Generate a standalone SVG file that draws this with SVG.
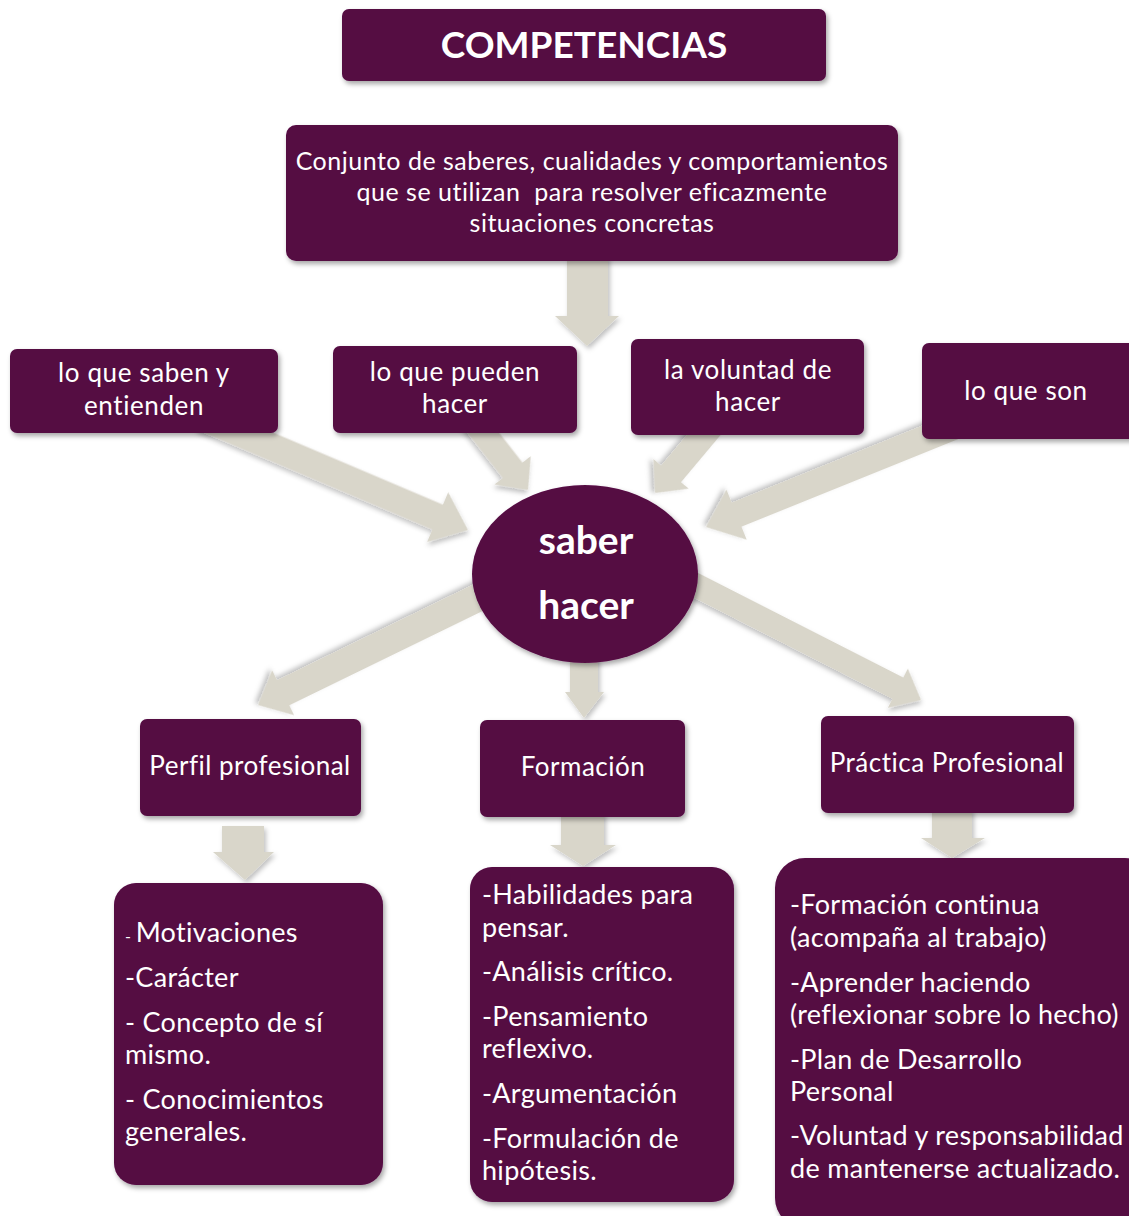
<svg xmlns="http://www.w3.org/2000/svg" width="1129" height="1216" viewBox="0 0 1129 1216">
  <defs>
    <filter id="shadow" x="-10%" y="-10%" width="125%" height="130%">
      <feDropShadow dx="2" dy="3" stdDeviation="2.5" flood-color="#000" flood-opacity="0.35"/>
    </filter>
    <filter id="ashadow" x="-10%" y="-10%" width="125%" height="130%">
      <feDropShadow dx="2" dy="3" stdDeviation="2.5" flood-color="#000" flood-opacity="0.25"/>
    </filter>
  </defs>
  <style>
    .box { fill: #540842; filter: url(#shadow); }
    .arrow { fill: #d9d6ca; filter: url(#ashadow); }
    text { fill: #ffffff; font-family: Lato, "Liberation Sans", sans-serif; }
    .c { text-anchor: middle; }
    .def { font-size: 25px; letter-spacing: 0.5px; }
    .row { font-size: 26px; letter-spacing: 0.6px; }
    .mid { font-size: 26px; letter-spacing: 0.5px; }
    .li { font-size: 27px; letter-spacing: 0.3px; }
    .b { font-weight: bold; }
  </style>
  <rect width="1129" height="1216" fill="#ffffff"/>

  <!-- block arrows -->
  <g id="connectors">
    <polygon class="arrow" points="567,255 608,255 608,316 619,316 587,346 555,316 567,316"/>
    <g transform="translate(468,530) rotate(23)"><polygon class="arrow" points="0,0 -33,-27 -33,-13.5 -290,-13.5 -290,13.5 -33,13.5 -33,27"/></g>
    <g transform="translate(528,490) rotate(52)"><polygon class="arrow" points="0,0 -25,-23 -25,-12.5 -100,-12.5 -100,12.5 -25,12.5 -25,23"/></g>
    <g transform="translate(655,493) rotate(130)"><polygon class="arrow" points="0,0 -25,-23 -25,-13 -110,-13 -110,13 -25,13 -25,23"/></g>
    <g transform="translate(706,527) rotate(158)"><polygon class="arrow" points="0,0 -33,-27 -33,-13 -290,-13 -290,13 -33,13 -33,27"/></g>
    <g transform="translate(258,705) rotate(154)"><polygon class="arrow" points="0,0 -28,-25 -28,-14 -300,-14 -300,14 -28,14 -28,25"/></g>
    <g transform="translate(921,700) rotate(27)"><polygon class="arrow" points="0,0 -26,-22 -26,-12 -300,-12 -300,12 -26,12 -26,22"/></g>
    <polygon class="arrow" points="570,655 598,655 598,692 604,692 584,718 565,692 570,692"/>
    <polygon class="arrow" points="222,826 264,826 264,852 274,852 245,880 213,852 222,852"/>
    <polygon class="arrow" points="561,812 604,812 604,845 616,845 583,866 550,845 561,845"/>
    <polygon class="arrow" points="932,808 972,808 972,838 985,838 952,858 921,838 932,838"/>
  </g>

  <g id="competencias">
    <rect class="box" x="342" y="9" width="484" height="72" rx="7"/>
    <text class="c b" x="584" y="58" font-size="37">COMPETENCIAS</text>
  </g>

  <g id="definicion">
    <rect class="box" x="286" y="125" width="612" height="136" rx="10"/>
    <text class="c def" x="592" y="170">Conjunto de saberes, cualidades y comportamientos</text>
    <text class="c def" x="592" y="201" xml:space="preserve">que se utilizan  para resolver eficazmente</text>
    <text class="c def" x="592" y="232">situaciones concretas</text>
  </g>

  <g id="saben">
    <rect class="box" x="10" y="349" width="268" height="84" rx="7"/>
    <text class="c row" x="144" y="382">lo que saben y</text>
    <text class="c row" x="144" y="415">entienden</text>
  </g>

  <g id="pueden">
    <rect class="box" x="333" y="346" width="244" height="87" rx="7"/>
    <text class="c row" x="455" y="381">lo que pueden</text>
    <text class="c row" x="455" y="413">hacer</text>
  </g>

  <g id="voluntad">
    <rect class="box" x="631" y="339" width="233" height="96" rx="7"/>
    <text class="c row" x="748" y="379">la voluntad de</text>
    <text class="c row" x="748" y="411">hacer</text>
  </g>

  <g id="son">
    <rect class="box" x="922" y="343" width="220" height="96" rx="7"/>
    <text class="c row" x="1026" y="400">lo que son</text>
  </g>

  <g id="saber-hacer">
    <ellipse class="box" cx="585" cy="574" rx="113" ry="89"/>
    <text class="c b" x="586" y="554" font-size="39">saber</text>
    <text class="c b" x="586" y="619" font-size="39">hacer</text>
  </g>

  <g id="perfil">
    <rect class="box" x="140" y="719" width="221" height="97" rx="7"/>
    <text class="c mid" x="250" y="775">Perfil profesional</text>
  </g>

  <g id="formacion">
    <rect class="box" x="480" y="720" width="205" height="97" rx="7"/>
    <text class="c mid" x="583" y="776">Formación</text>
  </g>

  <g id="practica">
    <rect class="box" x="821" y="716" width="253" height="97" rx="7"/>
    <text class="c mid" x="947" y="772">Práctica Profesional</text>
  </g>

  <g id="lista-perfil">
    <rect class="box" x="114" y="883" width="269" height="302" rx="22"/>
    <text class="li" x="125" y="942"><tspan font-size="16">- </tspan>Motivaciones</text>
    <text class="li" x="125" y="987">-Carácter</text>
    <text class="li" x="125" y="1032">- Concepto de sí</text>
    <text class="li" x="125" y="1064">mismo.</text>
    <text class="li" x="125" y="1109">- Conocimientos</text>
    <text class="li" x="125" y="1141">generales.</text>
  </g>

  <g id="lista-formacion">
    <rect class="box" x="470" y="867" width="264" height="335" rx="22"/>
    <text class="li" x="482" y="904">-Habilidades para</text>
    <text class="li" x="482" y="937">pensar.</text>
    <text class="li" x="482" y="981">-Análisis crítico.</text>
    <text class="li" x="482" y="1026">-Pensamiento</text>
    <text class="li" x="482" y="1058">reflexivo.</text>
    <text class="li" x="482" y="1103">-Argumentación</text>
    <text class="li" x="482" y="1148">-Formulación de</text>
    <text class="li" x="482" y="1180">hipótesis.</text>
  </g>

  <g id="lista-practica">
    <rect class="box" x="775" y="858" width="380" height="370" rx="30"/>
    <text class="li" x="790" y="914">-Formación continua</text>
    <text class="li" x="790" y="947">(acompaña al trabajo)</text>
    <text class="li" x="790" y="992">-Aprender haciendo</text>
    <text class="li" x="790" y="1024">(reflexionar sobre lo hecho)</text>
    <text class="li" x="790" y="1069">-Plan de Desarrollo</text>
    <text class="li" x="790" y="1101">Personal</text>
    <text class="li" x="790" y="1145">-Voluntad y responsabilidad</text>
    <text class="li" x="790" y="1178">de mantenerse actualizado.</text>
  </g>
</svg>
